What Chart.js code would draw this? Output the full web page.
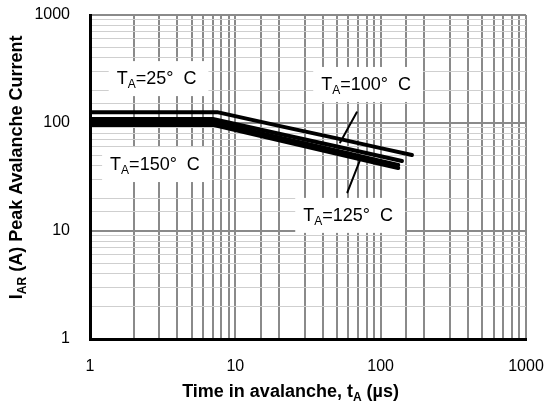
<!DOCTYPE html>
<html>
<head>
<meta charset="utf-8">
<script src="https://cdn.jsdelivr.net/npm/chart.js@4.4.0/dist/chart.umd.min.js"></script>
<style>
    html, body { margin: 0; padding: 0; background: #fff; }
    #wrap { width: 546px; height: 403px; }
</style>
</head>
<body>
<div id="wrap"><canvas id="avalancheChart" width="546" height="403"></canvas></div>
<script>
// axis decades that get a number
var timeTicks = [1, 10, 100, 1000];
var currentTicks = [1, 10, 100, 1000];

// curves, t in us / I in A
var t25 = [1, 7.5, 20, 50, 100, 164];
var i25 = [126, 126, 94, 72, 58.5, 50.6];
var t100 = [1, 7, 20, 50, 100, 140];
var i100 = [109, 109, 79.6, 60.5, 49.2, 44.5];
var t125 = [1, 7, 20, 50, 100, 132];
var i125 = [102, 102, 73.5, 55.3, 44.5, 40.8];
var t150 = [1, 7, 20, 50, 100, 132];
var i150 = [96, 96, 69.1, 51.9, 41.7, 38.3];

// leader lines from the labels to the curves
var lead100T = [68.5, 52.6];
var lead100I = [125.6, 66];
var lead125T = [72.1, 59.0];
var lead125I = [45.4, 22.8];

// temperature labels (where their text sits, in data units)
var labelTemps = ['25', '100', '125', '150'];
var labelT = [2.87, 79.4, 59.7, 2.80];
var labelI = [255, 225, 13.8, 40.8];

var FONT = 'Arial, "Liberation Sans", sans-serif';

function toPoints(xs, ys) {
    return xs.map(function (x, k) { return { x: x, y: ys[k] }; });
}

function isDecade(v) {
    var l = Math.log10(v);
    return Math.abs(l - Math.round(l)) < 1e-9;
}

function curve(xs, ys, w) {
    return {
        data: toPoints(xs, ys),
        borderColor: '#000',
        borderWidth: w,
        borderCapStyle: 'round',
        borderJoinStyle: 'round',
        pointRadius: 0,
        tension: 0,
        fill: false
    };
}

// draws text made of normal and subscript pieces, centered on x
function drawParts(ctx, parts, x, y, size, bold) {
    var w = 0;
    var weight = bold ? 'bold ' : '';
    parts.forEach(function (p) {
        ctx.font = weight + (p.sub ? Math.round(size * 0.65) : size) + 'px ' + FONT;
        p.w = ctx.measureText(p.t).width;
        w += p.w;
    });
    var cx = x - w / 2;
    ctx.textBaseline = 'middle';
    ctx.textAlign = 'left';
    parts.forEach(function (p) {
        ctx.font = weight + (p.sub ? Math.round(size * 0.65) : size) + 'px ' + FONT;
        ctx.fillText(p.t, cx, p.sub ? y + size * 0.3 : y);
        cx += p.w;
    });
    return w;
}

function measureParts(ctx, parts, size) {
    var w = 0;
    parts.forEach(function (p) {
        ctx.font = (p.sub ? Math.round(size * 0.65) : size) + 'px ' + FONT;
        w += ctx.measureText(p.t).width;
    });
    return w;
}

var labelPlugin = {
    id: 'tempLabels',
    beforeDatasetsDraw: function (chart) {
        var ctx = chart.ctx;
        var xs = chart.scales.x, ys = chart.scales.y;
        ctx.save();
        for (var i = 0; i < labelTemps.length; i++) {
            var parts = [{ t: 'T' }, { t: 'A', sub: true }, { t: '=' + labelTemps[i] + '°  C' }];
            var cx = xs.getPixelForValue(labelT[i]);
            var cy = ys.getPixelForValue(labelI[i]);
            var w = measureParts(ctx, parts, 18);
            var left = Math.max(chart.chartArea.left + 2, cx - w / 2 - 8);
            ctx.fillStyle = '#fff';
            ctx.fillRect(left, cy - 18, cx + w / 2 + 12 - left, 35);
            ctx.fillStyle = '#000';
            drawParts(ctx, parts, cx, cy, 18, false);
        }
        ctx.restore();
    },
    afterDraw: function (chart) {
        var ctx = chart.ctx;
        var a = chart.chartArea;
        ctx.save();
        ctx.fillStyle = '#000';
        drawParts(ctx, [{ t: 'Time in avalanche, t' }, { t: 'A', sub: true }, { t: ' (µs)' }],
            a.left + (a.right - a.left) * 0.46, 392, 18, true);
        ctx.translate(17, a.top + (a.bottom - a.top) * 0.47);
        ctx.rotate(-Math.PI / 2);
        drawParts(ctx, [{ t: 'I' }, { t: 'AR', sub: true }, { t: ' (A) Peak Avalanche Current' }],
            0, 0, 18, true);
        ctx.restore();
    }
};

var ctx1 = document.getElementById('avalancheChart').getContext('2d');
var avalancheChart = new Chart(ctx1, {
    type: 'line',
    data: {
        datasets: [
            curve(t25, i25, 4),
            curve(t100, i100, 4),
            curve(t125, i125, 4),
            curve(t150, i150, 4),
            curve(lead100T, lead100I, 2),
            curve(lead125T, lead125I, 2)
        ]
    },
    options: {
        responsive: false,
        animation: false,
        layout: { padding: { left: 0, top: 15, right: 20, bottom: 0 } },
        plugins: {
            legend: { display: false },
            tooltip: { enabled: false }
        },
        scales: {
            x: {
                type: 'logarithmic',
                min: 1,
                max: 1000,
                border: { color: '#000', width: 3 },
                grid: { color: '#8a8a8a', lineWidth: 2, drawTicks: false },
                ticks: {
                    autoSkip: false,
                    maxRotation: 0,
                    padding: 18,
                    color: '#000',
                    font: { family: FONT, size: 16 },
                    callback: function (v) {
                        return timeTicks.indexOf(Math.round(v)) >= 0 && isDecade(v) ? String(Math.round(v)) : '';
                    }
                },
                afterFit: function (s) {
                    s.height = 64;
                    s.paddingLeft = 0;
                    s.paddingRight = 0;
                }
            },
            y: {
                type: 'logarithmic',
                min: 1,
                max: 1000,
                border: { color: '#000', width: 3 },
                grid: {
                    color: function (c) { return isDecade(c.tick.value) ? '#8a8a8a' : '#cfcfcf'; },
                    lineWidth: function (c) { return isDecade(c.tick.value) ? 2 : 1; },
                    drawTicks: false
                },
                ticks: {
                    autoSkip: false,
                    padding: 20,
                    color: '#000',
                    font: { family: FONT, size: 16 },
                    callback: function (v) {
                        return currentTicks.indexOf(Math.round(v)) >= 0 && isDecade(v) ? String(Math.round(v)) : '';
                    }
                },
                afterFit: function (s) {
                    s.width = 90;
                    s.paddingTop = 0;
                    s.paddingBottom = 0;
                }
            }
        }
    },
    plugins: [labelPlugin]
});
</script>
</body>
</html>
